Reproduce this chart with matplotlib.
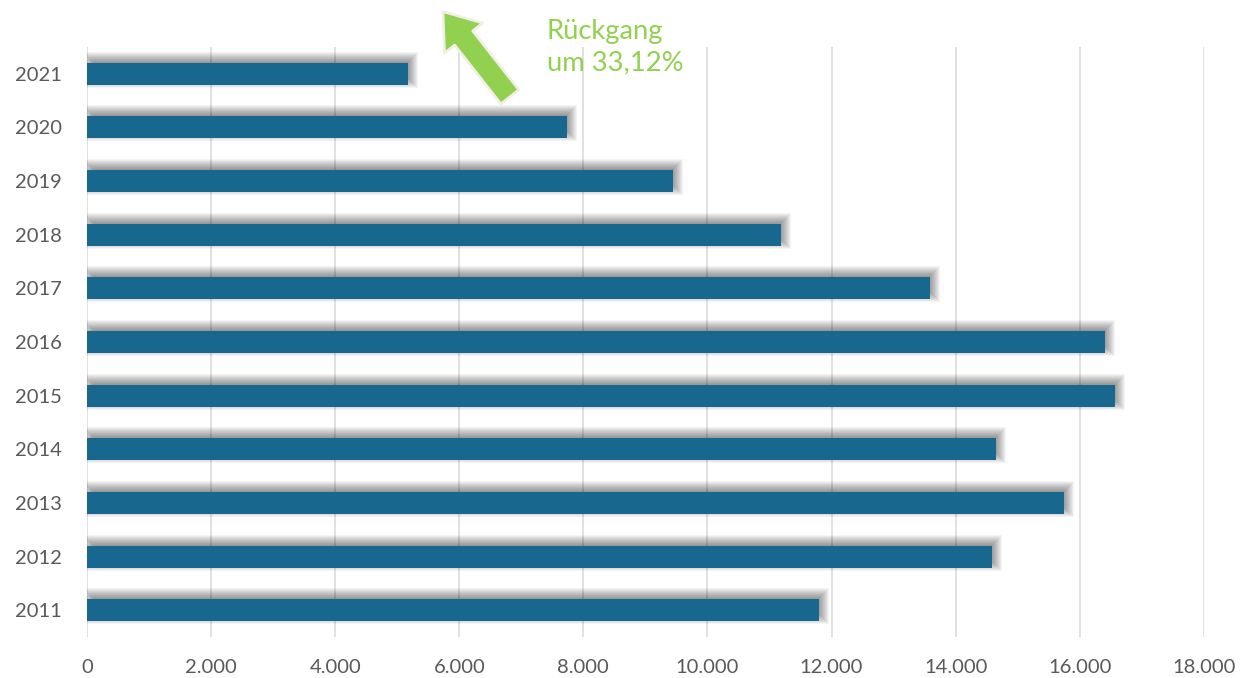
import matplotlib.pyplot as plt
from matplotlib.ticker import FuncFormatter, MultipleLocator

# data
years = ["2011", "2012", "2013", "2014", "2015", "2016", "2017", "2018", "2019", "2020", "2021"]
values = [11795, 14583, 15743, 14647, 16565, 16404, 13584, 11183, 9443, 7734, 5172]
note = "Rückgang\num 33,12%"

bar_color = "#17678f"
green = "#92d050"
grey_text = "#595959"
bar_h = 0.41

plt.rcParams["font.family"] = ["Lato", "DejaVu Sans"]

fig = plt.figure(figsize=(12.41, 6.78), dpi=100)
ax = fig.add_axes([0.0701, 0.0605, 0.8999, 0.8702])
ax.set_xlim(0, 18000)
ax.set_ylim(-0.5, len(years) - 0.5)

pos = list(range(len(years)))

# blurred drop shadow: stack of faint dark bars, shifted up/right a few pixels
bb = ax.get_window_extent()
ux = 18000 / bb.width
uy = len(years) / bb.height
for e in range(-7, 8):
    ax.barh([p + 4 * uy for p in pos], [v + 2 * e * ux for v in values],
            left=(3 - e) * ux, height=bar_h + 2 * e * uy,
            color="k", alpha=0.045, linewidth=0, zorder=2)

ax.barh(pos, values, height=bar_h, color=bar_color, zorder=3)

ax.xaxis.set_major_locator(MultipleLocator(2000))
ax.xaxis.set_major_formatter(FuncFormatter(lambda x, p: f"{x:,.0f}".replace(",", ".")))
ax.set_yticks(pos)
ax.set_yticklabels(years)

ax.grid(axis="x", color="#dedede", linewidth=1.3, zorder=0)
ax.set_axisbelow(True)
for s in ax.spines.values():
    s.set_visible(False)
ax.tick_params(axis="both", length=0, labelsize=14.5, labelcolor=grey_text)
ax.tick_params(axis="x", pad=16)
ax.tick_params(axis="y", pad=18)

# arrow + note about the decline
ax.annotate("", xy=(5737, 11.16), xytext=(6816, 9.57), annotation_clip=False,
            arrowprops=dict(arrowstyle="simple,head_length=1.1,head_width=1.6,tail_width=0.75",
                            mutation_scale=22, facecolor=green, edgecolor="#f1efe6",
                            linewidth=2, shrinkA=0, shrinkB=0))
ax.text(7410, 11.03, note, color=green, fontsize=19.7, va="top", ha="left",
        linespacing=1.32, clip_on=False)

fig.savefig("out.png", dpi=100)
